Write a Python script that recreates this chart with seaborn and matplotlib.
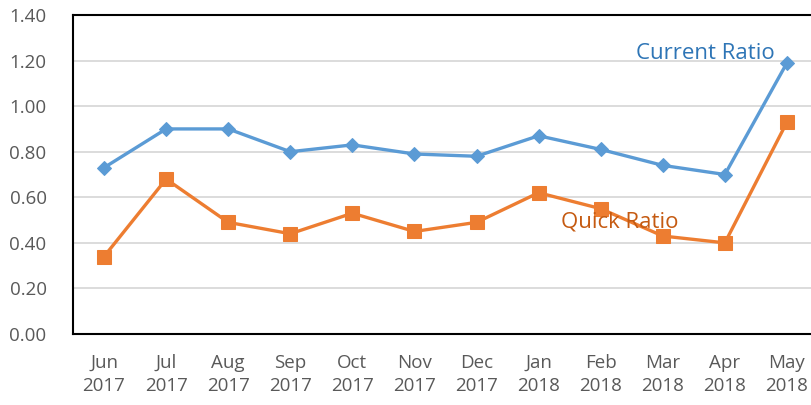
import matplotlib
matplotlib.use("Agg")
import matplotlib.pyplot as plt
import seaborn as sns
import pandas as pd
import numpy as np

months = ["Jun\n2017", "Jul\n2017", "Aug\n2017", "Sep\n2017", "Oct\n2017", "Nov\n2017",
          "Dec\n2017", "Jan\n2018", "Feb\n2018", "Mar\n2018", "Apr\n2018", "May\n2018"]
current_ratio = [0.73, 0.90, 0.90, 0.80, 0.83, 0.79, 0.78, 0.87, 0.81, 0.74, 0.70, 1.19]
quick_ratio = [0.34, 0.68, 0.49, 0.44, 0.53, 0.45, 0.49, 0.62, 0.55, 0.43, 0.40, 0.93]
y_ticks = [0.0, 0.2, 0.4, 0.6, 0.8, 1.0, 1.2, 1.4]

sns.set_style("white")
plt.rcParams['font.family'] = ['Open Sans', 'DejaVu Sans']

df = pd.DataFrame({"idx": np.arange(len(months)), "Current": current_ratio, "Quick": quick_ratio})

fig = plt.figure(figsize=(8.11, 4.05), dpi=100)
ax = fig.add_axes([73/811, 1 - 334/405, 745/811, (334-15)/405])

ax.yaxis.grid(True, color="#D9D9D9", linewidth=1.3)
ax.set_axisbelow(True)

sns.lineplot(data=df, x="idx", y="Current", ax=ax, color="#5B9BD5", linewidth=2.4,
             marker="D", markersize=7.5, markeredgecolor="#5B9BD5")
sns.lineplot(data=df, x="idx", y="Quick", ax=ax, color="#ED7D31", linewidth=2.4,
             marker="s", markersize=9.5, markeredgecolor="#ED7D31")

ax.set_xlim(-0.5, len(months) - 0.5)
ax.set_ylim(0, 1.4)
ax.set_yticks(y_ticks)
ax.set_yticklabels([f"{v:.2f}" for v in y_ticks])
ax.set_xticks(np.arange(len(months)))
ax.set_xticklabels(months, linespacing=1.35)
ax.set_xticks(np.arange(len(months)) + 0.5, minor=True)
ax.tick_params(axis="x", which="major", length=0, pad=14.5, labelsize=13.5, labelcolor="#595959")
ax.tick_params(axis="x", which="minor", length=6, width=1.5, color="black", direction="out")
ax.tick_params(axis="y", length=0, pad=19, labelsize=13.5, labelcolor="#595959")
ax.set_xlabel("")
ax.set_ylabel("")

for side in ["left", "bottom", "top"]:
    ax.spines[side].set_color("black")
    ax.spines[side].set_linewidth(1.5)
ax.spines["right"].set_visible(False)

ax.text(9.68, 1.233, "Current Ratio", color="#2E75B6", fontsize=16, ha="center", va="center")
ax.text(8.31, 0.49, "Quick Ratio", color="#C55A11", fontsize=16, ha="center", va="center")

fig.savefig("out.png", dpi=100)
